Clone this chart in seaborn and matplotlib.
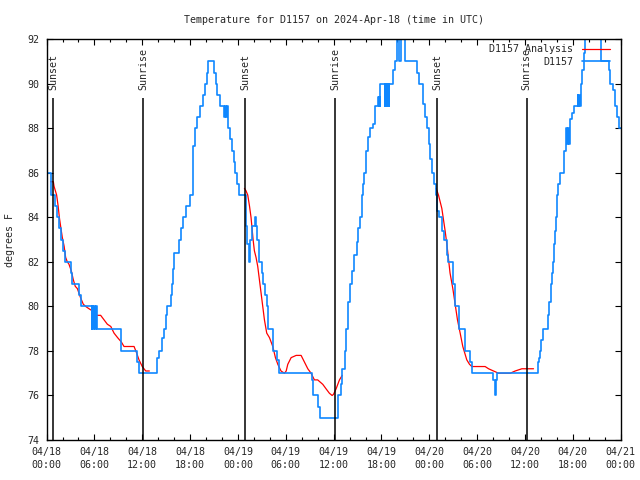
import numpy as np
import pandas as pd
import matplotlib
matplotlib.use("Agg")
import matplotlib.pyplot as plt
import seaborn as sns
from matplotlib.ticker import MultipleLocator

# hours since 2024-04-18 00:00 UTC, observed temperature (step data)
obs_hours = [0.0, 0.5, 1.0, 1.25, 1.6, 1.75, 2.1, 2.35, 3.0, 3.2, 4.1, 4.3,
             5.66, 5.75, 5.85, 5.95, 6.05, 6.15, 6.3, 9.3, 11.4, 11.6,
             13.8, 14.1, 14.44, 14.73, 14.98, 15.07, 15.57, 15.7, 15.9, 16.0,
             16.6, 16.9, 17.14, 17.5, 17.98, 18.35, 18.6, 18.9, 19.25, 19.6,
             19.87, 20.1, 20.3, 21.0, 21.24, 21.4, 21.75, 22.3, 22.4, 22.5,
             22.6, 22.7, 22.8, 23.0, 23.2, 23.45, 23.6, 23.9, 24.1,
             25.0, 25.15, 25.35, 25.5, 25.8, 26.1, 26.3, 26.4, 26.7, 27.0,
             27.2, 27.45, 27.6, 27.82, 28.45, 28.9, 29.12, 33.3, 33.45, 34.1,
             34.3, 36.5, 36.94, 37.1, 37.4, 37.6, 37.85, 38.1, 38.35, 38.6,
             38.9, 39.1, 39.35, 39.55, 39.7, 39.82, 40.05, 40.3, 40.5, 41.0,
             41.2, 41.6, 41.7, 41.75, 41.8, 41.83, 42.4, 42.5, 42.65, 42.75,
             42.9, 43.0, 43.5, 43.7, 43.93, 44.2, 44.4, 44.95, 46.5, 46.7,
             47.2, 47.45, 47.65, 47.9, 48.1, 48.3, 48.6, 48.86, 49.0, 49.27,
             49.6, 49.78, 50.2, 50.4, 50.95, 51.24, 51.78, 52.5, 53.15, 53.34,
             56.05, 56.2, 56.4, 56.5, 61.57, 61.7, 61.85, 62.05, 62.32, 62.85,
             63.07, 63.2, 63.35, 63.5, 63.65, 63.8, 63.92, 64.0, 64.2, 64.33,
             64.95, 65.1, 65.2, 65.3, 65.4, 65.5, 65.6, 65.9, 66.09, 66.6,
             66.7, 66.8, 66.9, 67.0, 67.14, 67.35, 67.55, 69.56, 70.48, 70.7,
             71.0, 71.3, 71.5, 71.73, 72.0]
obs_temp = [86.0, 85.0, 84.5, 84.0, 83.5, 83.0, 82.5, 82.0, 81.5, 81.0, 80.5, 80.0,
            79.0, 80.0, 79.0, 80.0, 79.0, 80.0, 79.0, 78.0, 77.5, 77.0,
            77.7, 78.0, 78.6, 79.0, 79.6, 80.0, 80.5, 81.0, 81.7, 82.4,
            83.0, 83.5, 84.0, 84.5, 85.0, 87.2, 88.0, 88.5, 89.0, 89.5,
            90.0, 90.5, 91.0, 90.5, 90.0, 89.5, 89.0, 88.5, 89.0, 88.5,
            89.0, 88.5, 88.0, 87.5, 87.0, 86.5, 86.0, 85.5, 85.0,
            83.6, 82.8, 82.0, 83.0, 83.6, 84.0, 83.6, 83.0, 82.0, 81.5,
            81.0, 80.5, 80.0, 79.0, 78.0, 77.6, 77.0, 76.7, 76.0, 75.5,
            75.0, 76.0, 76.5, 77.2, 78.0, 79.0, 80.2, 81.0, 81.6, 82.3,
            82.9, 83.5, 84.0, 85.0, 85.5, 86.0, 87.0, 87.6, 88.0, 88.2,
            89.0, 89.4, 89.0, 89.4, 89.0, 90.0, 89.0, 90.0, 89.0, 90.0,
            89.0, 90.0, 90.6, 91.0, 92.5, 91.0, 92.5, 91.0, 90.5, 90.0,
            89.1, 88.5, 88.0, 87.3, 86.6, 86.0, 85.5, 85.0, 84.3, 84.0,
            83.4, 83.0, 82.3, 82.0, 81.0, 80.0, 79.0, 78.0, 77.5, 77.0,
            76.7, 76.0, 76.7, 77.0, 77.5, 77.7, 78.0, 78.5, 79.0, 79.6,
            80.2, 81.0, 81.5, 82.0, 82.8, 83.4, 84.0, 85.0, 85.5, 86.0,
            87.0, 87.6, 88.0, 87.3, 88.0, 87.3, 88.4, 88.7, 89.0, 89.5,
            89.0, 89.5, 89.0, 90.0, 90.6, 91.4, 92.5, 91.0, 90.6, 90.0,
            89.7, 89.0, 88.5, 88.0, 88.0]

# analysis curve, one piece per night
ana1_hours = [0.51, 0.85, 0.93, 1.26, 1.45, 1.6, 1.76, 1.97, 2.2, 2.39, 2.6, 2.8,
              3.1, 3.35, 3.6, 3.86, 4.25, 4.6, 4.9, 5.3, 5.74, 6.3, 6.78, 7.2,
              7.62, 8.05, 8.46, 8.9, 9.38, 9.71, 10.97, 11.3, 11.59, 12.0,
              12.43, 12.89]
ana1_temp = [85.6, 85.6, 85.4, 85.0, 84.5, 84.0, 83.6, 83.1, 82.7, 82.2, 82.0, 81.9,
             81.6, 81.2, 80.9, 80.8, 80.4, 80.1, 80.0, 79.9, 79.8, 79.6, 79.6, 79.4,
             79.2, 79.1, 78.8, 78.6, 78.4, 78.2, 78.2, 77.9, 77.6, 77.3,
             77.1, 77.1]
ana2_hours = [24.81, 25.0, 25.23, 25.45, 25.64, 25.9, 26.06, 26.27, 26.48, 26.69,
              26.9, 27.11, 27.32, 27.61, 27.95, 28.37, 28.7, 29.0, 29.4, 29.83,
              30.05, 30.25, 30.67, 31.3, 31.92, 32.34, 32.76, 33.17, 33.59, 34.0,
              34.64, 35.05, 35.47, 35.81, 35.98, 36.31, 36.73, 37.07]
ana2_temp = [85.3, 85.2, 85.0, 84.5, 84.0, 83.0, 82.5, 82.2, 81.8, 81.2,
             80.6, 80.0, 79.4, 78.8, 78.6, 78.2, 77.7, 77.4, 77.1, 77.0,
             77.1, 77.4, 77.7, 77.8, 77.8, 77.5, 77.2, 77.0, 76.7, 76.7,
             76.5, 76.3, 76.1, 76.0, 76.05, 76.3, 76.7, 76.9]
ana3_hours = [48.86, 49.15, 49.57, 49.98, 50.2, 50.6, 50.95, 51.24, 51.53, 51.87,
              52.2, 52.7, 53.04, 53.34, 53.75, 55.0, 55.43, 56.05, 56.68, 58.15,
              58.77, 59.61, 61.07]
ana3_temp = [85.3, 85.0, 84.4, 83.4, 82.8, 81.5, 80.8, 80.1, 79.4, 78.8,
             78.2, 77.6, 77.4, 77.3, 77.3, 77.3, 77.2, 77.1, 77.0, 77.0,
             77.1, 77.2, 77.2]

sun_hours = [0.85, 12.15, 24.9, 36.18, 48.95, 60.2]
sun_labels = ["Sunset", "Sunrise", "Sunset", "Sunrise", "Sunset", "Sunrise"]

tick_labels = ["04/18\n00:00", "04/18\n06:00", "04/18\n12:00", "04/18\n18:00",
               "04/19\n00:00", "04/19\n06:00", "04/19\n12:00", "04/19\n18:00",
               "04/20\n00:00", "04/20\n06:00", "04/20\n12:00", "04/20\n18:00",
               "04/21\n00:00"]

sns.set_style("ticks")
plt.rcParams["font.family"] = ["DejaVu Sans Mono"]
fs = 7.2

fig = plt.figure(figsize=(6.4, 4.8), dpi=100)
ax = fig.add_axes([0.0728, 0.0833, 0.897, 0.835])

red = "#ff0000"
blue = "#0f87ff"

nights = [(ana1_hours, ana1_temp), (ana2_hours, ana2_temp), (ana3_hours, ana3_temp)]
for i, (hh, tt) in enumerate(nights):
    sns.lineplot(x=hh, y=tt, ax=ax, color=red, linewidth=0.9, estimator=None,
                 label="D1157 Analysis" if i == 0 else None)

sns.lineplot(x=obs_hours, y=obs_temp, ax=ax, color=blue, linewidth=1.2,
             estimator=None, drawstyle="steps-post", label="D1157")

for h, lab in zip(sun_hours, sun_labels):
    ax.vlines(h, 74, 89.35, color="black", linewidth=1.1, zorder=3)
    ax.text(h, 89.7, lab, rotation=90, ha="center", va="bottom", fontsize=fs)

ax.set_xlim(0, 72)
ax.set_ylim(74, 92)
ax.set_xticks(np.arange(0, 73, 6))
ax.set_xticklabels(tick_labels, linespacing=1.35)
ax.xaxis.set_minor_locator(MultipleLocator(2))
ax.set_yticks(np.arange(74, 93, 2))
ax.tick_params(axis="both", which="both", direction="in", top=True, right=True,
               labelsize=fs, width=0.8, color="black")
ax.tick_params(axis="x", which="major", length=4, pad=5)
ax.tick_params(axis="x", which="minor", length=2.5)
ax.tick_params(axis="y", which="major", length=4, pad=5)
for s in ax.spines.values():
    s.set_linewidth(1.0)
    s.set_color("black")
ax.set_xlabel("")
ax.set_ylabel("")

fig.text(333.6 / 640, 1 - 20 / 480, "Temperature for D1157 on 2024-Apr-18 (time in UTC)",
         ha="center", va="center", fontsize=fs)
fig.text(10 / 640, 1 - 240 / 480, "degrees F", rotation=90, ha="center", va="center",
         fontsize=fs)

ax.legend(loc="upper right", bbox_to_anchor=(0.9885, 0.998), frameon=False,
          markerfirst=False, fontsize=fs, handlelength=2.8, handletextpad=0.9,
          borderaxespad=0.0, labelspacing=0.25)

fig.savefig("out.png", dpi=100)
